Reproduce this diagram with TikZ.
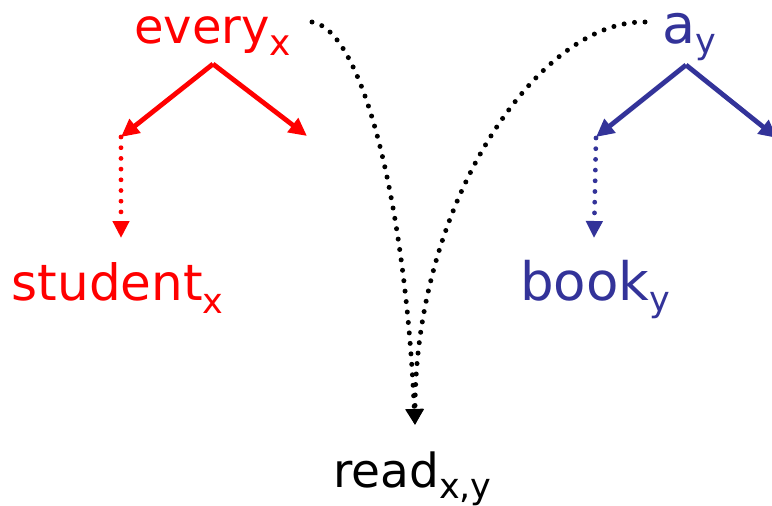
\documentclass[tikz,border=0pt]{standalone}
\usepackage{fontspec}
\setmainfont{DejaVu Sans}
\usetikzlibrary{arrows.meta}
\definecolor{qred}{RGB}{255,0,0}
\definecolor{qblue}{RGB}{51,51,153}
% lowered index set in a smaller size
\newcommand{\lowidx}[3]{\raisebox{-#2pt}{\fontsize{#3}{#3}\selectfont #1}}
\begin{document}
\begin{tikzpicture}[x=1pt,y=-1pt,
  word/.style={inner sep=0pt, anchor=base west},
  branch/.style={line width=4.8pt, -{Triangle[length=18pt,width=17pt]}},
  dotline/.style={line width=4.8pt, line cap=round, dash pattern=on 0pt off 10.7pt,
                  -{Triangle[length=17pt,width=16pt]}},
  scopeline/.style={line width=5pt, line cap=round, dash pattern=on 0pt off 10.5pt,
                  -{Triangle[length=16pt,width=17pt]}}]
\useasboundingbox (0,0) rectangle (772,506);

% words
\node[word, text=qred, font=\fontsize{48}{48}\selectfont] (every) at (134,43) {every\lowidx{x}{12}{36}};
\node[word, text=qblue, font=\fontsize{54}{54}\selectfont] (a) at (662,43) {a\lowidx{y}{10}{35}};
\node[word, text=qred, font=\fontsize{50}{50}\selectfont] (student) at (11.5,300) {student\lowidx{x}{13}{35}};
\node[word, text=qblue, font=\fontsize{53}{53}\selectfont] (book) at (520,300) {book\lowidx{y}{11}{35}};
\node[word, text=black, font=\fontsize{47}{47}\selectfont] (read) at (333,487) {read\lowidx{x,y}{11}{35}};

% branching points and arrow ends
\coordinate (eroot) at (213,64);
\coordinate (eleft) at (121,137);
\coordinate (eright) at (307,136);
\coordinate (estud) at (121,238);
\coordinate (aroot) at (686,65);
\coordinate (aleft) at (596,137);
\coordinate (aright) at (777,138);
\coordinate (abook) at (594,238);
\coordinate (estart) at (312,22);
\coordinate (astart) at (645,22);
\coordinate (rtop) at (415,425);

% red quantifier tree
\draw[qred, branch] (eroot) -- (eleft);
\draw[qred, branch] (eroot) -- (eright);
\draw[qred, dotline] (eleft) -- (estud);

% blue quantifier tree
\draw[qblue, branch] (aroot) -- (aleft);
\draw[qblue, branch] (aroot) -- (aright);
\draw[qblue, dotline] (aleft |- 0,138) -- (abook);

% scope links down to the verb
\draw[scopeline] (estart) .. controls (362,30) and (405,200) .. (rtop);
\draw[scopeline] (astart) .. controls (540,20) and (415,200) .. (rtop);
\end{tikzpicture}
\end{document}
